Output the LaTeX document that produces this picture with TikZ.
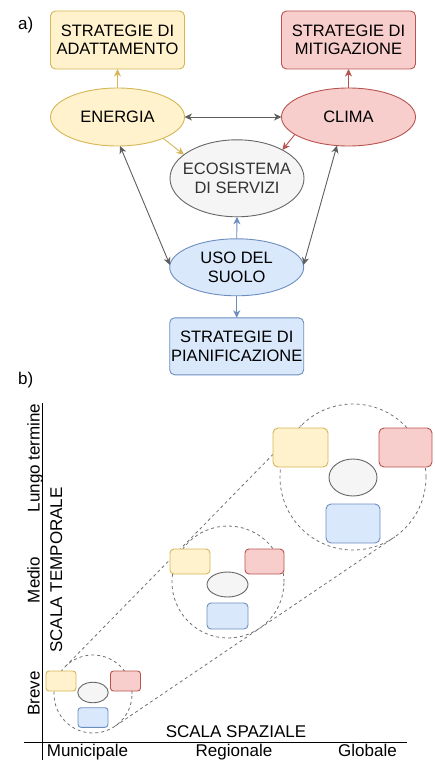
\documentclass[tikz,border=0pt]{standalone}
\usepackage{fontspec}
\setmainfont{Liberation Sans}
\usetikzlibrary{shapes.geometric,arrows.meta}

\definecolor{yfill}{HTML}{FFF2CC}
\definecolor{yline}{HTML}{D6B656}
\definecolor{rfill}{HTML}{F8CECC}
\definecolor{rline}{HTML}{B85450}
\definecolor{bfill}{HTML}{DAE8FC}
\definecolor{bline}{HTML}{6C8EBF}
\definecolor{gfill}{HTML}{F5F5F5}
\definecolor{gline}{HTML}{666666}
\definecolor{gtext}{HTML}{333333}
\definecolor{conn}{HTML}{5E5E5E}
\definecolor{dashc}{HTML}{707070}

\begin{document}
\begin{tikzpicture}[x=1pt,y=-1pt,
  txt/.style={font=\fontsize{16.5}{18.5}\selectfont, align=center, inner sep=0pt},
  lbl/.style={font=\fontsize{17}{20}\selectfont, inner sep=0pt},
  shp/.style={line width=0.9pt, inner sep=0pt, outer sep=0pt},
  stratbox/.style={shp, rectangle, rounded corners=5pt, minimum width=134, minimum height=58, txt},
  blob/.style={shp, ellipse, minimum width=134, minimum height=58},
  yel/.style={fill=yfill, draw=yline},
  red/.style={fill=rfill, draw=rline},
  blu/.style={fill=bfill, draw=bline},
  gry/.style={fill=gfill, draw=gline},
  tip/.style={-{Stealth[length=7.5pt,width=7pt,inset=2.2pt]}},
  dtip/.style={{Stealth[length=7.5pt,width=7pt,inset=2.2pt]}-{Stealth[length=7.5pt,width=7pt,inset=2.2pt]}},
  link/.style={line width=0.9pt},
  zone/.style={shp, circle, draw=dashc, dash pattern=on 3pt off 3pt, line width=0.8pt},
  cone/.style={draw=dashc, dash pattern=on 3pt off 3pt, line width=0.8pt},
  mini/.style={shp, rectangle, rounded corners=#1},
  mini/.default=4pt,
  axis/.style={line width=1.1pt, black}
]
\useasboundingbox (0,0) rectangle (434,760);

% ---------------- a) ----------------
\node[lbl, anchor=base west] (labA) at (18,30) {a)};

\node[stratbox, yel] (adapt) at (117.5,40) {STRATEGIE DI\\ADATTAMENTO};
\node[stratbox, red] (mitig) at (348.5,40) {STRATEGIE DI\\MITIGAZIONE};
\node[blob, yel, label={[txt]center:ENERGIA}] (energia) at (117.5,117) {};
\node[blob, red, label={[txt]center:CLIMA}] (clima) at (348.5,117) {};
\node[blob, gry, minimum height=77, label={[txt, text=gtext]center:ECOSISTEMA\\DI SERVIZI}] (eco) at (237,178.3) {};
\node[blob, blu, minimum height=57, label={[txt]center:USO DEL\\SUOLO}] (uso) at (236.7,267.3) {};
\node[stratbox, blu, minimum height=57] (pian) at (236.7,346.3) {STRATEGIE DI\\PIANIFICAZIONE};

\draw[link, tip, yline] (energia.north) -- (adapt.south);
\draw[link, tip, rline] (clima.north) -- (mitig.south);
\draw[link, dtip, conn] (energia.east) -- (clima.west);
\draw[link, tip, yline] (energia.-25) -- (eco.156);
\draw[link, tip, rline] (clima.-162) -- (eco.32);
\draw[link, dtip, conn] (energia.-85) -- (uso.178);
\draw[link, dtip, conn] (clima.-112) -- (uso.2);
\draw[link, tip, bline] (uso.north) -- (eco.south);
\draw[link, tip, bline] (uso.south) -- (pian.north);

% ---------------- b) ----------------
\node[lbl, anchor=base west] (labB) at (18,384) {b)};

% axes
\coordinate (vtop) at (42.7,403);
\coordinate (vbot) at (42.7,760);
\coordinate (hleft) at (24,742.7);
\coordinate (hright) at (407,742.7);
\draw[axis] (vtop) -- (vbot);
\draw[axis] (hleft) -- (hright);

\node[lbl, rotate=90, anchor=base] (lungo) at (39.5,458) {Lungo termine};
\node[lbl, rotate=90, anchor=base] (medio) at (39.5,580) {Medio};
\node[lbl, rotate=90, anchor=base] (breve) at (39.5,693.5) {Breve};
\node[lbl, rotate=90, anchor=base] (stemp) at (62,570) {SCALA TEMPORALE};
\node[lbl, anchor=base] (sspaz) at (236,737) {SCALA SPAZIALE};
\node[lbl, anchor=base] (munic) at (87.5,756) {Municipale};
\node[lbl, anchor=base] (regio) at (234,756) {Regionale};
\node[lbl, anchor=base] (globa) at (367.5,756) {Globale};

% dashed zones and the cone joining them
\node[zone, minimum size=78] (zs) at (93,694) {};
\node[zone, minimum size=112] (zm) at (228,582) {};
\node[zone, minimum size=146] (zl) at (353,477) {};
\draw[cone] (zs.135.6) -- (zl.135.6);
\draw[cone] (zs.-55.9) -- (zl.-55.9);

% large cluster
\node[mini=5pt, yel, minimum width=55, minimum height=39] (ly) at (300.5,447.5) {};
\node[mini=5pt, red, minimum width=53, minimum height=39] (lr) at (405.5,447.5) {};
\node[shp, ellipse, gry, minimum width=48, minimum height=37] (lg) at (353,477.5) {};
\node[mini=5pt, blu, minimum width=54, minimum height=39] (lb) at (353,523.5) {};

% medium cluster
\node[mini=4pt, yel, minimum width=40, minimum height=25] (my) at (190,561.5) {};
\node[mini=4pt, red, minimum width=39, minimum height=25] (mr) at (264.5,561.5) {};
\node[shp, ellipse, gry, minimum width=41, minimum height=25] (mg) at (227.5,584.5) {};
\node[mini=4pt, blu, minimum width=41, minimum height=26] (mb) at (227.5,616) {};

% small cluster
\node[mini=3pt, yel, minimum width=30, minimum height=20] (sy) at (61,681) {};
\node[mini=3pt, red, minimum width=30, minimum height=20] (sr) at (125.5,681) {};
\node[shp, ellipse, gry, minimum width=30.5, minimum height=20.5] (sg) at (93,692.5) {};
\node[mini=3pt, blu, minimum width=30, minimum height=19.6] (sb) at (93,717.5) {};
\end{tikzpicture}
\end{document}
